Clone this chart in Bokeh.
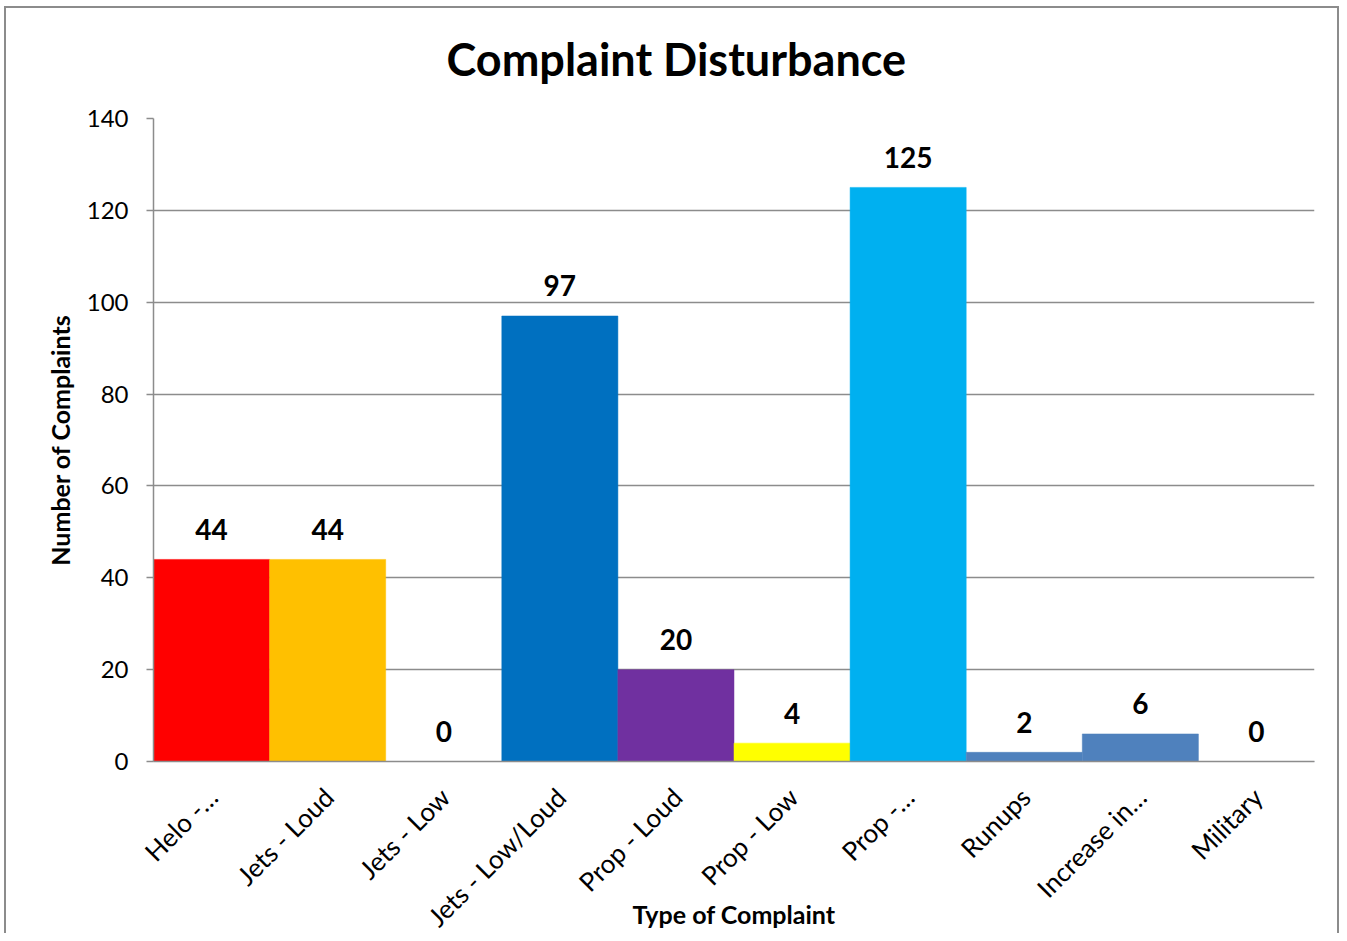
import math
from bokeh.plotting import figure
from bokeh.models import Range1d, FixedTicker, ColumnDataSource, Title
from bokeh.core.properties import value
from bokeh.embed import file_html
from bokeh.resources import INLINE

# ---- data ----
categories = ["Helo -\u2026", "Jets - Loud", "Jets - Low", "Jets - Low/Loud", "Prop - Loud",
              "Prop - Low", "Prop -\u2026", "Runups", "Increase in\u2026", "Military"]
counts = [44, 44, 0, 97, 20, 4, 125, 2, 6, 0]
bar_colors = ["#FF0000", "#FFC000", "#4F81BD", "#0070C0", "#7030A0",
              "#FFFF00", "#00B0F0", "#4F81BD", "#4F81BD", "#4F81BD"]
y_ticks = [0, 20, 40, 60, 80, 100, 120, 140]

FONT = "Lato"
GRAY = "#8c8c8c"
W, H = 1339, 933

n = len(categories)
centers = [i + 0.5 for i in range(n)]
label_shift = 0.01
label_pos = [c + label_shift for c in centers]

src = ColumnDataSource(dict(x=centers, top=counts, color=bar_colors,
                            txt=[str(v) for v in counts]))

p = figure(width=W, height=H, output_backend="svg", toolbar_location=None,
           x_range=Range1d(0, n), y_range=Range1d(0, 140),
           min_border_left=153, min_border_right=25, min_border_top=118,
           min_border_bottom=172)
p.outline_line_color = None
p.border_fill_color = None
p.background_fill_color = "white"
# chart border on left, top and right (bottom edge lies outside the view)
p.styles = {
    "background-color": "white",
    "box-shadow": ("inset 4px 0 0 white, inset 0 6px 0 white, "
                   "inset 6px 0 0 #8c8c8c, inset 0 8px 0 #8c8c8c, "
                   "inset -2px 0 0 #8c8c8c"),
}

p.vbar(x="x", top="top", width=1.0, bottom=0, fill_color="color",
       line_color="color", line_width=0.5, source=src)

p.text(x="x", y="top", text="txt", source=src, text_align="center",
       text_baseline="middle", y_offset=-30, text_font=value(FONT),
       text_font_style="bold", text_font_size="28px", text_color="black")

# title
title = Title(text="Complaint Disturbance", align="left", offset=293,
              vertical_align="top",
              text_font=FONT, text_font_style="bold", text_font_size="45px",
              text_color="black", standoff=61)
p.add_layout(title, "above")

# y axis
p.yaxis.ticker = FixedTicker(ticks=y_ticks)
p.yaxis.axis_line_color = GRAY
p.yaxis.axis_line_width = 1.5
p.yaxis.major_tick_line_color = GRAY
p.yaxis.major_tick_line_width = 1.5
p.yaxis.major_tick_out = 7
p.yaxis.major_tick_in = 0
p.yaxis.minor_tick_line_color = None
p.yaxis.major_label_text_font = FONT
p.yaxis.major_label_text_font_size = "24px"
p.yaxis.major_label_text_color = "black"
p.yaxis.major_label_standoff = 18
p.yaxis.axis_label = "Number of Complaints"
p.yaxis.axis_label_text_font = FONT
p.yaxis.axis_label_text_font_size = "25px"
p.yaxis.axis_label_text_font_style = "bold"
p.yaxis.axis_label_text_color = "black"
p.yaxis.axis_label_standoff = 9

# x axis
p.xaxis.ticker = FixedTicker(ticks=label_pos)
p.xaxis.major_label_overrides = {lp: c for lp, c in zip(label_pos, categories)}
p.xaxis.major_label_orientation = math.pi / 4
p.xaxis.axis_line_color = GRAY
p.xaxis.axis_line_width = 1.5
p.xaxis.major_tick_line_color = None
p.xaxis.major_tick_out = 0
p.xaxis.major_tick_in = 0
p.xaxis.minor_tick_line_color = None
p.xaxis.major_label_text_font = FONT
p.xaxis.major_label_text_font_size = "26px"
p.xaxis.major_label_text_color = "black"
p.xaxis.major_label_standoff = 31
p.xaxis.axis_label = "Type of Complaint"
p.xaxis.axis_label_text_font = FONT
p.xaxis.axis_label_text_font_size = "25px"
p.xaxis.axis_label_text_font_style = "bold"
p.xaxis.axis_label_text_color = "black"
p.xaxis.axis_label_standoff = -48

p.xgrid.grid_line_color = None
p.ygrid.ticker = FixedTicker(ticks=y_ticks)
p.ygrid.grid_line_color = GRAY
p.ygrid.grid_line_width = 1.5

open("out.html", "w").write(file_html(p, INLINE))
